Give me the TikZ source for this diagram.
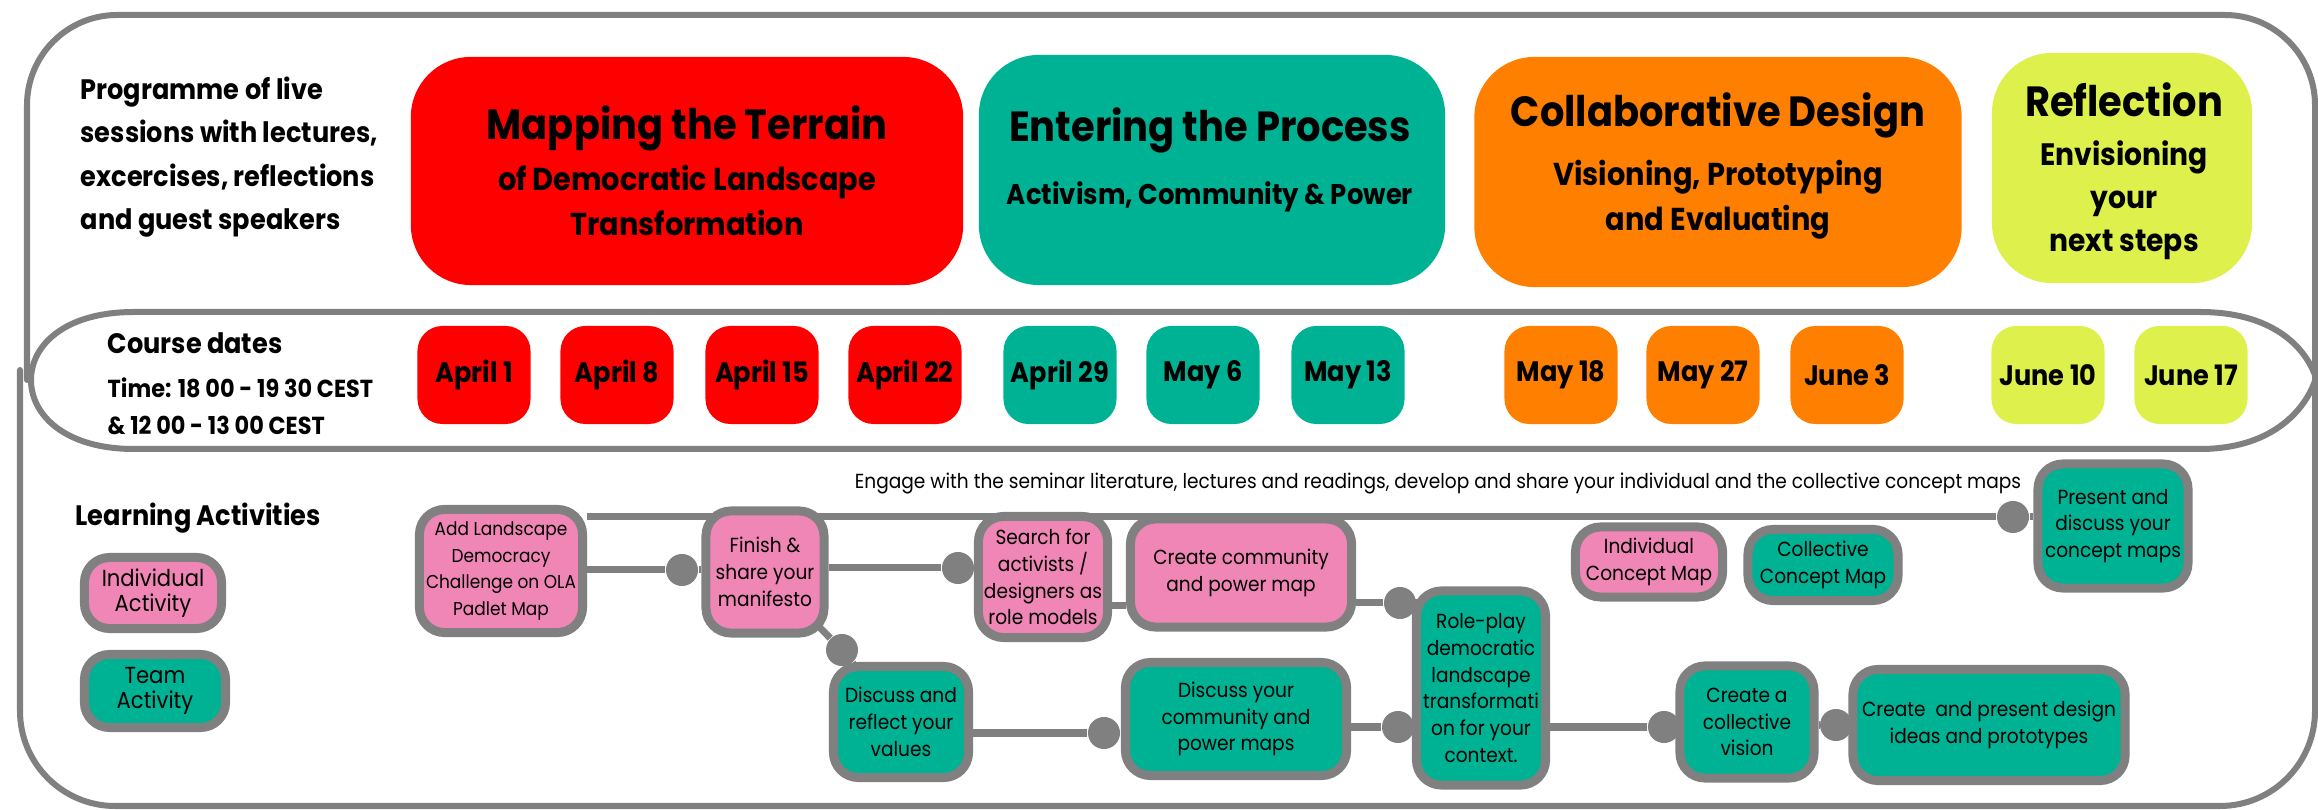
\documentclass[tikz,border=0pt]{standalone}
\usepackage{fontspec}
\setmainfont{Poppins}[FakeStretch = 0.91]
\usetikzlibrary{positioning, backgrounds}

\definecolor{mapred}{RGB}{255,0,0}
\definecolor{proteal}{RGB}{0,178,148}
\definecolor{desorange}{RGB}{255,127,0}
\definecolor{reflime}{RGB}{222,240,76}
\definecolor{indpink}{RGB}{240,134,182}
\definecolor{framegray}{RGB}{128,128,128}

\tikzset{
	outline/.style = {draw = framegray, line width = 0.06cm, line cap = round},
	phase/.style = {fill = #1, rounded corners = 0.6cm, inner sep = 0pt},
	ptitle/.style = {font = \bfseries\fontsize{12}{13}\selectfont, inner sep = 0pt},
	psub/.style = {font = \bfseries\fontsize{9}{12.8}\selectfont, align = center, inner sep = 0pt},
	datebox/.style = {fill = #1, rounded corners = 0.25cm, minimum width = 1.13cm, minimum height = 0.98cm, inner sep = 0pt, font = \bfseries\fontsize{8}{9}\selectfont},
	activity/.style = {draw = framegray, line width = 0.09cm, fill = #1, rounded corners = 0.25cm, inner sep = 0pt, align = center, font = \fontsize{5.8}{7.6}\selectfont},
	indiv/.style = {activity = indpink},
	team/.style = {activity = proteal},
	actdot/.style = {circle, fill = framegray, minimum size = 0.32cm, inner sep = 0pt},
	link/.style = {draw = framegray, line width = 0.07cm}
}

\begin{document}
\begin{tikzpicture}[x = 0.01cm, y = -0.01cm]

	\useasboundingbox (0, 0) rectangle (2318, 810);

	% Frames
	
	\draw [outline, rounded corners = 0.9cm] (27, 380) -- (27, 15) -- (2315, 15) -- (2315, 380);
	\draw [outline, rounded corners = 0.95cm] (20, 370) -- (20, 806) -- (2315, 806) -- (2315, 370);
	\draw [outline] (134, 312) -- (2200, 312) .. controls (2270, 312) and (2305, 345) .. (2316, 378) .. controls (2305, 412) and (2270, 449) .. (2200, 449) -- (134, 449) .. controls (65, 449) and (31, 415) .. (31, 380) .. controls (31, 345) and (65, 312) .. (134, 312);
	
	% Programme
	
	\node [anchor = west, align = left, inner sep = 0pt, font = \bfseries\fontsize{8}{12.3}\selectfont] (programme) at (80, 157) {Programme of live\\sessions with lectures,\\excercises, reflections\\and guest speakers};
	
	\node [phase = mapred, minimum width = 5.52cm, minimum height = 2.28cm] (mapping) at (687, 171) {};
	\node [ptitle] (mappingT) at (687, 128) {Mapping the Terrain};
	\node [psub] (mappingS) at (687, 200) {of Democratic Landscape\\Transformation};
	
	\node [phase = proteal, minimum width = 4.66cm, minimum height = 2.3cm] (entering) at (1212, 170) {};
	\node [ptitle] (enteringT) at (1210, 130) {Entering the Process};
	\node [psub, font = \bfseries\fontsize{8.1}{12.8}\selectfont] (enteringS) at (1210, 197) {Activism, Community \& Power};
	
	\node [phase = desorange, minimum width = 4.87cm, minimum height = 2.3cm] (collab) at (1718, 172) {};
	\node [ptitle] (collabT) at (1718, 115) {Collaborative Design};
	\node [psub] (collabS) at (1718, 200) {Visioning, Prototyping\\and Evaluating};
	
	\node [phase = reflime, minimum width = 2.6cm, minimum height = 2.3cm] (reflect) at (2122, 168) {};
	\node [ptitle] (reflectT) at (2124, 100) {Reflection};
	\node [psub, font = \bfseries\fontsize{8.8}{12.2}\selectfont] (reflectS) at (2124, 200) {Envisioning\\your\\next steps};
	
	% Course dates
	
	\node [anchor = west, inner sep = 0pt, font = \bfseries\fontsize{8}{10}\selectfont] (dates) at (107, 343) {Course dates};
	\node [anchor = west, align = left, inner sep = 0pt, font = \bfseries\fontsize{7}{10.5}\selectfont] (times) at (107, 406) {Time: 18 00 - 19 30 CEST\\\& 12 00 - 13 00 CEST};
	
	\foreach \name/\x/\day/\col in {apr1/474/April 1/mapred, apr8/617/April 8/mapred, apr15/762/April 15/mapred, apr22/905/April 22/mapred, apr29/1060/April 29/proteal, may6/1203/May 6/proteal, may13/1348/May 13/proteal, may18/1561/May 18/desorange, may27/1703/May 27/desorange, jun3/1847/June 3/desorange, jun10/2048/June 10/reflime, jun17/2191/June 17/reflime}
		\node [datebox = \col] (\name) at (\x, 375) {\day};
	
	% Learning activities
	
	\node [anchor = west, inner sep = 0pt, font = \bfseries\fontsize{8}{9}\selectfont] (learning) at (75, 518) {Learning Activities};
	\node [indiv, minimum width = 1.37cm, minimum height = 0.71cm, font = \fontsize{6.6}{7.1}\selectfont] (legindiv) at (153, 593) {Individual\\Activity};
	\node [team, minimum width = 1.41cm, minimum height = 0.73cm, font = \fontsize{6.6}{7.1}\selectfont] (legteam) at (155, 691) {Team\\Activity};
	
	\node [font = \fontsize{5.8}{6}\selectfont, inner sep = 0pt] (engage) at (1438, 483) {Engage with the seminar literature, lectures and readings, develop and share your individual and the collective concept maps};
	
	\node [indiv, minimum width = 1.63cm, minimum height = 1.23cm, font = \fontsize{5.3}{7.6}\selectfont] (add) at (501, 571) {Add Landscape\\Democracy\\Challenge on OLA\\Padlet Map};
	\node [indiv, minimum width = 1.18cm, minimum height = 1.22cm] (finish) at (765, 572) {Finish \&\\share your\\manifesto};
	\node [team, minimum width = 1.35cm, minimum height = 1.11cm] (values) at (901, 722) {Discuss and\\reflect your\\values};
	\node [indiv, minimum width = 1.29cm, minimum height = 1.21cm] (search) at (1043, 577) {Search for\\activists /\\designers as\\role models};
	\node [indiv, minimum width = 2.21cm, minimum height = 1.08cm] (powermap) at (1241, 573) {Create community\\and power map};
	\node [team, minimum width = 2.21cm, minimum height = 1.13cm] (discussmaps) at (1236, 719) {Discuss your\\community and\\power maps};
	\node [team, minimum width = 1.29cm, minimum height = 1.94cm] (roleplay) at (1481, 688) {Role-play\\democratic\\landscape\\transformati\\on for your\\context.};
	\node [team, minimum width = 1.34cm, minimum height = 1.12cm] (vision) at (1747, 722) {Create a\\collective\\vision};
	\node [team, minimum width = 2.72cm, minimum height = 1.11cm] (design) at (1989, 725) {Create~ and present design\\ideas and prototypes};
	\node [indiv, minimum width = 1.47cm, minimum height = 0.7cm] (indmap) at (1649, 562) {Individual\\Concept Map};
	\node [team, minimum width = 1.5cm, minimum height = 0.71cm] (colmap) at (1823, 565) {Collective\\Concept Map};
	\node [team, minimum width = 1.5cm, minimum height = 1.24cm] (present) at (2113, 526) {Present and\\discuss your\\concept maps};
	
	% Connector dots
	
	\node [actdot] (dtop) at (2013, 517) {};
	\node [actdot] (dadd) at (682, 570) {};
	\node [actdot] (dfinish) at (958, 568) {};
	\node [actdot] (dvalues) at (842, 650) {};
	\node [actdot] (dpower) at (1400, 603) {};
	\node [actdot] (ddiscuss) at (1104, 733) {};
	\node [actdot] (drole) at (1398, 727) {};
	\node [actdot] (dvision) at (1664, 727) {};
	\node [actdot] (ddesign) at (1836, 725) {};
	
	% Connectors
	
	\begin{scope}[on background layer]
		\draw [link] (add.east |- dtop) -- (dtop) -- (dtop -| present.west);
		\draw [link] (add.east |- dadd) -- (dadd) -- (dadd -| finish.west);
		\draw [link] (finish.east |- dfinish) -- (dfinish) -- (dfinish -| search.west);
		\draw [link] (finish.center) -- (dvalues) -- (values.center);
		\draw [link] ([yshift = -0.28cm] search.east) -- ([yshift = -0.28cm] search.east -| powermap.west);
		\draw [link] (powermap.east |- dpower) -- (dpower) -- (dpower -| roleplay.west);
		\draw [link] (values.east |- ddiscuss) -- (ddiscuss) -- (ddiscuss -| discussmaps.west);
		\draw [link] (discussmaps.east |- drole) -- (drole) -- (drole -| roleplay.west);
		\draw [link] (roleplay.east |- dvision) -- (dvision) -- (dvision -| vision.west);
		\draw [link] (vision.east |- ddesign) -- (ddesign) -- (ddesign -| design.west);
	\end{scope}

\end{tikzpicture}
\end{document}
